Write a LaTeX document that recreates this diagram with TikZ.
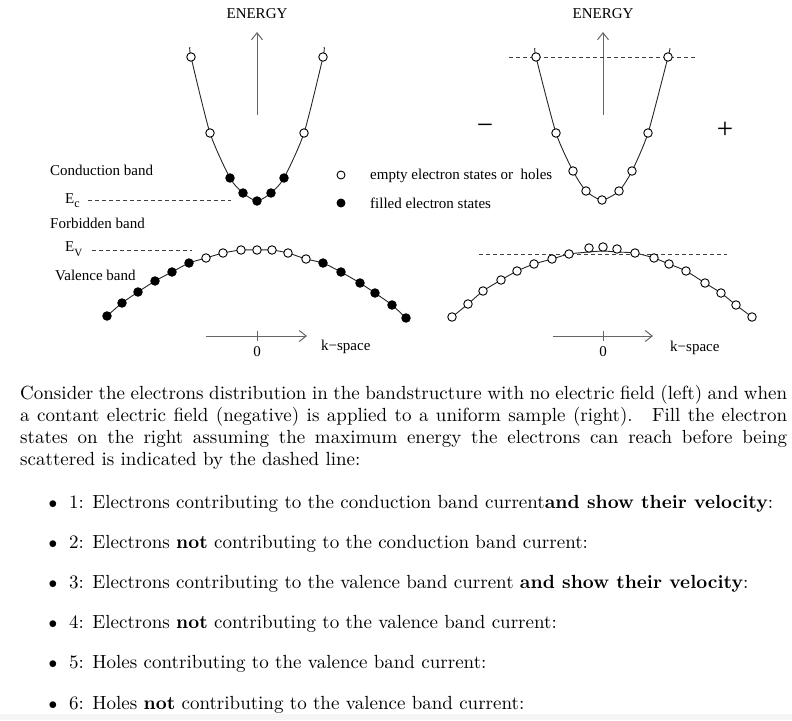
\documentclass[tikz,border=0pt]{standalone}
\usepackage{fontspec}
\newfontfamily\figfont{Liberation Serif}
\newfontfamily\bodyfont{lmroman10-regular.otf}[BoldFont=lmroman10-bold.otf]
\usetikzlibrary{arrows.meta}
\pgfdeclarelayer{bg}
\pgfsetlayers{bg,main}
\tikzset{
  emptyst/.style={circle, draw, fill=white, inner sep=0pt, minimum size=8.5pt, line width=0.9pt},
  filledst/.style={circle, draw, fill=black, inner sep=0pt, minimum size=8.5pt, line width=0.9pt},
  bandline/.style={line width=0.9pt, black!85},
  elevel/.style={dash pattern=on 4pt off 3pt, line width=0.8pt, black!75},
  kaxis/.style={line width=1pt, black!60, -{Straight Barb[length=7pt,width=11pt]}},
  lbl/.style={font=\figfont\fontsize{15}{15}\selectfont, inner sep=0pt},
  bigsign/.style={font=\figfont\fontsize{29}{29}\selectfont, inner sep=0pt},
  bodyline/.style={font=\bodyfont\fontsize{19}{22}\selectfont, inner sep=0pt, anchor=base west},
  bull/.style={font=\bodyfont\fontsize{19}{22}\selectfont, inner sep=0pt, anchor=base},
}
\begin{document}
\begin{tikzpicture}[x=1pt, y=-1pt]
\useasboundingbox (0,0) rectangle (792,720);
\fill[black!4] (0,714) rectangle (792,720);

% ---------------- left diagram ----------------
\node[lbl] (enL) at (257,14) {ENERGY};
\coordinate (eLb) at (257,115);
\coordinate (eLt) at (257,32);
\draw[kaxis] (eLb) -- (eLt);

% conduction band (left)
\node[emptyst]  (L1) at (191,57) {};
\node[emptyst]  (L2) at (210,133) {};
\node[filledst] (L3) at (230,178) {};
\node[filledst] (L4) at (243,193) {};
\node[filledst] (L5) at (257,201) {};
\node[filledst] (L6) at (271,193) {};
\node[filledst] (L7) at (284,178) {};
\node[emptyst]  (L8) at (304,133) {};
\node[emptyst]  (L9) at (323,57) {};
\coordinate (L0) at (190,47);
\coordinate (L10) at (324,47);
\begin{pgfonlayer}{bg}
\draw[bandline] plot[smooth, tension=0.4] coordinates {(L0) (L1.center) (L2.center) (L3.center) (L4.center) (L5.center) (L6.center) (L7.center) (L8.center) (L9.center) (L10)};
\end{pgfonlayer}

% valence band (left)
\node[filledst] (V1) at (107,316) {};
\node[filledst] (V2) at (122,303) {};
\node[filledst] (V3) at (138,292) {};
\node[filledst] (V4) at (155,281) {};
\node[filledst] (V5) at (172,272) {};
\node[filledst] (V6) at (189,263) {};
\node[emptyst]  (V7) at (206,258) {};
\node[emptyst]  (V8) at (223,253) {};
\node[emptyst]  (V9) at (241,250) {};
\node[emptyst]  (V10) at (257,250) {};
\node[emptyst]  (V11) at (272,250) {};
\node[emptyst]  (V12) at (288,253) {};
\node[emptyst]  (V13) at (306,259) {};
\node[filledst] (V14) at (323,263) {};
\node[filledst] (V15) at (341,272) {};
\node[filledst] (V16) at (360,283) {};
\node[filledst] (V17) at (375,293) {};
\node[filledst] (V18) at (392,305) {};
\node[filledst] (V19) at (406,318) {};
\begin{pgfonlayer}{bg}
\draw[bandline] plot[smooth, tension=0.4] coordinates {(V1.center) (V2.center) (V3.center) (V4.center) (V5.center) (V6.center) (V7.center) (V8.center) (V9.center) (V10.center) (V11.center) (V12.center) (V13.center) (V14.center) (V15.center) (V16.center) (V17.center) (V18.center) (V19.center)};
\end{pgfonlayer}

% labels and levels (left)
\node[lbl, anchor=base west] (cb) at (50,175) {Conduction band};
\node[lbl, anchor=base west] (ec) at (65,203) {E\raisebox{-4pt}{\fontsize{12}{12}\selectfont c}};
\coordinate (ecA) at (88,200);
\coordinate (ecB) at (231,200);
\draw[elevel] (ecA) -- (ecB);
\node[lbl, anchor=base west] (fb) at (50,228) {Forbidden band};
\node[lbl, anchor=base west] (ev) at (65,251) {E\raisebox{-5pt}{\fontsize{11}{11}\selectfont V}};
\coordinate (evA) at (92,250);
\coordinate (evB) at (192,250);
\draw[elevel] (evA) -- (evB);
\node[lbl, anchor=base west] (vb) at (55,280) {Valence band};

% k axis (left)
\coordinate (kLa) at (206,336);
\coordinate (kLb) at (307,336);
\coordinate (kLt1) at (257,331);
\coordinate (kLt2) at (257,341);
\draw[kaxis] (kLa) -- (kLb);
\draw[line width=1pt, black!60] (kLt1) -- (kLt2);
\node[lbl, anchor=base] (zL) at (257,356) {0};
\node[lbl, anchor=base west] (ksL) at (321,350) {k−space};

% legend
\node[emptyst, minimum size=8pt] (lg1) at (341,175) {};
\node[lbl, anchor=base west] (lg1t) at (370,179) {empty electron states or \ holes};
\node[filledst, minimum size=8pt] (lg2) at (341,203) {};
\node[lbl, anchor=base west] (lg2t) at (370,208) {filled electron states};

% ---------------- right diagram ----------------
\node[lbl] (enR) at (603,14) {ENERGY};
\coordinate (eRb) at (603,115);
\coordinate (eRt) at (603,32);
\draw[kaxis] (eRb) -- (eRt);
\coordinate (dRa) at (509,57);
\coordinate (dRb) at (695,57);
\draw[elevel] (dRa) -- (dRb);

\node[emptyst] (R1) at (536,57) {};
\node[emptyst] (R2) at (556,133) {};
\node[emptyst] (R3) at (573,171) {};
\node[emptyst] (R4) at (586,191) {};
\node[emptyst] (R5) at (602,200) {};
\node[emptyst] (R6) at (619,191) {};
\node[emptyst] (R7) at (632,171) {};
\node[emptyst] (R8) at (648,133) {};
\node[emptyst] (R9) at (668,57) {};
\coordinate (R0) at (535,48);
\coordinate (R10) at (670,48);
\begin{pgfonlayer}{bg}
\draw[bandline] plot[smooth, tension=0.4] coordinates {(R0) (R1.center) (R2.center) (R3.center) (R4.center) (R5.center) (R6.center) (R7.center) (R8.center) (R9.center) (R10)};
\end{pgfonlayer}

\node[bigsign] (minus) at (485,129) {−};
\node[bigsign] (plus) at (725,130) {+};

\coordinate (dVa) at (479,254);
\coordinate (dVb) at (727,254);
\draw[elevel] (dVa) -- (dVb);

\node[emptyst] (W1) at (452,317) {};
\node[emptyst] (W2) at (468,304) {};
\node[emptyst] (W3) at (483,291) {};
\node[emptyst] (W4) at (501,280) {};
\node[emptyst] (W5) at (517,271) {};
\node[emptyst] (W6) at (534,264) {};
\node[emptyst] (W7) at (552,259) {};
\node[emptyst] (W8) at (569,254) {};
\node[emptyst] (W9) at (589,248) {};
\node[emptyst] (W10) at (603,247) {};
\node[emptyst] (W11) at (617,249) {};
\node[emptyst] (W12) at (635,253) {};
\node[emptyst] (W13) at (654,258) {};
\node[emptyst] (W14) at (669,264) {};
\node[emptyst] (W15) at (686,271) {};
\node[emptyst] (W16) at (705,283) {};
\node[emptyst] (W17) at (721,293) {};
\node[emptyst] (W18) at (736,305) {};
\node[emptyst] (W19) at (752,317) {};
\coordinate (Wc9) at (589,252);
\coordinate (Wc10) at (603,251);
\coordinate (Wc11) at (617,252);
\begin{pgfonlayer}{bg}
\draw[bandline] plot[smooth, tension=0.4] coordinates {(W1.center) (W2.center) (W3.center) (W4.center) (W5.center) (W6.center) (W7.center) (W8.center) (Wc9) (Wc10) (Wc11) (W12.center) (W13.center) (W14.center) (W15.center) (W16.center) (W17.center) (W18.center) (W19.center)};
\end{pgfonlayer}

\coordinate (kRa) at (553,336);
\coordinate (kRb) at (653,336);
\coordinate (kRt1) at (603,331);
\coordinate (kRt2) at (603,341);
\draw[kaxis] (kRa) -- (kRb);
\draw[line width=1pt, black!60] (kRt1) -- (kRt2);
\node[lbl, anchor=base] (zR) at (603,356) {0};
\node[lbl, anchor=base west] (ksR) at (670,351) {k−space};

% ---------------- text ----------------
\node[bodyline] (p1) at (20,399) {\makebox[767pt][s]{Consider the electrons distribution in the bandstructure with no electric field (left) and when}};
\node[bodyline] (p2) at (20,421) {\makebox[767pt][s]{a contant electric field (negative) is applied to a uniform sample (right). \ Fill the electron}};
\node[bodyline] (p3) at (20,443) {\makebox[767pt][s]{states on the right assuming the maximum energy the electrons can reach before being}};
\node[bodyline] (p4) at (20,465) {scattered is indicated by the dashed line:};

\foreach \i/\t in {0/{1: Electrons contributing to the conduction band current\textbf{and show their velocity}:},
                   1/{2: Electrons \textbf{not} contributing to the conduction band current:},
                   2/{3: Electrons contributing to the valence band current \textbf{and show their velocity}:},
                   3/{4: Electrons \textbf{not} contributing to the valence band current:},
                   4/{5: Holes contributing to the valence band current:},
                   5/{6: Holes \textbf{not} contributing to the valence band current:}}{
  \node[bull] (b\i) at (53,508+40.2*\i) {$\bullet$};
  \node[bodyline] (it\i) at (69,508+40.2*\i) {\t};
}
\end{tikzpicture}
\end{document}
